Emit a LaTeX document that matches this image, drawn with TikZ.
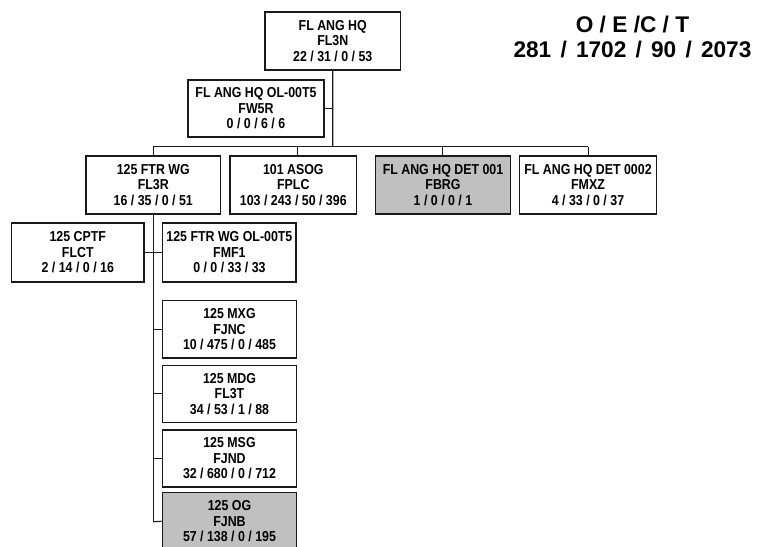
\documentclass[tikz,border=0pt]{standalone}
\usepackage{fontspec}
\setmainfont{Liberation Sans}[FakeStretch=0.86]
\newfontfamily\titlefont{Liberation Sans}
\definecolor{boxgray}{HTML}{C0C0C0}
\definecolor{edgecol}{HTML}{1A1A1A}
\tikzset{
  ubox/.style={draw=edgecol, line width=1.1pt, fill=white, rectangle, inner sep=0pt, align=center,
    font=\bfseries\fontsize{10.8pt}{11.7pt}\selectfont},
  gbox/.style={ubox, fill=boxgray},
  conn/.style={draw=edgecol, line width=0.9pt},
  ttl/.style={font=\titlefont\bfseries\fontsize{17pt}{18pt}\selectfont, inner sep=0pt}
}
\newcommand\orgbox[6]{\node[#1, minimum width=#4*0.75pt, minimum height=#5*0.75pt] (#2) at (#3) {#6};}
\newcommand\tgap{\hspace{6.9pt}}
\begin{document}
\begin{tikzpicture}[x=0.75pt, y=-0.75pt]
\clip (0,0) rectangle (760,546);
\fill[white] (0,0) rectangle (760,546);
% connectors first
\coordinate (bus) at (332.7,146.7);
\coordinate (busl) at (153.3,146.7);
\coordinate (busr) at (588.3,146.7);
\coordinate (dropasog) at (297.7,146.7);
\coordinate (dropdet) at (442.7,146.7);
\coordinate (colend) at (153.3,521.7);
% boxes
\orgbox{ubox}{hq}{332.75,41}{135.5}{58}{FL ANG HQ\\FL3N\\22 / 31 / 0 / 53}
\orgbox{ubox}{ol}{256,108.5}{136}{57}{FL ANG HQ OL-00T5\\FW5R\\0 / 0 / 6 / 6}
\orgbox{ubox}{ftr}{153.3,185}{134.7}{58}{125 FTR WG\\FL3R\\16 / 35 / 0 / 51}
\orgbox{ubox}{asog}{293.3,185}{126.7}{58}{101 ASOG\\FPLC\\103 / 243 / 50 / 396}
\orgbox{gbox}{det1}{443,185}{135.4}{58}{FL ANG HQ DET 001\\FBRG\\1 / 0 / 0 / 1}
\orgbox{ubox}{det2}{588,185}{137.4}{58}{FL ANG HQ DET 0002\\FMXZ\\4 / 33 / 0 / 37}
\orgbox{ubox}{cptf}{77.8,252.5}{132.3}{59}{125 CPTF\\FLCT\\2 / 14 / 0 / 16}
\orgbox{ubox}{ftrol}{229.4,252.5}{133.4}{59}{125 FTR WG OL-00T5\\FMF1\\0 / 0 / 33 / 33}
\orgbox{ubox}{mxg}{229.5,329.3}{134.4}{57.3}{125 MXG\\FJNC\\10 / 475 / 0 / 485}
\orgbox{ubox}{mdg}{229.5,393.8}{134.4}{57}{125 MDG\\FL3T\\34 / 53 / 1 / 88}
\orgbox{ubox}{msg}{229.5,458.5}{134.4}{57}{125 MSG\\FJND\\32 / 680 / 0 / 712}
\orgbox{gbox}{og}{229.5,521.3}{134.4}{57.3}{125 OG\\FJNB\\57 / 138 / 0 / 195}
% connector lines
\draw[conn] (hq.south) -- (bus);
\draw[conn] (ol.east) -- (ol.east -| bus);
\draw[conn] (busl) -- (busr);
\draw[conn] (busl) -- (ftr.north);
\draw[conn] (dropasog) -- (dropasog |- asog.north);
\draw[conn] (dropdet) -- (dropdet |- det1.north);
\draw[conn] (busr) -- (busr |- det2.north);
\draw[conn] (ftr.south) -- (colend);
\draw[conn] (cptf.east) -- (ftrol.west);
\draw[conn] (mxg.west) -- (mxg.west -| colend);
\draw[conn] (mdg.west) -- (mdg.west -| colend);
\draw[conn] (msg.west) -- (msg.west -| colend);
\draw[conn] (og.west) -- (colend);
% title
\node[ttl] (t1) at (632.5,24.5) {O / E /C / T};
\node[ttl] (t2) at (632.5,50) {281\tgap/\tgap1702\tgap/\tgap90\tgap/\tgap2073};
\end{tikzpicture}
\end{document}
